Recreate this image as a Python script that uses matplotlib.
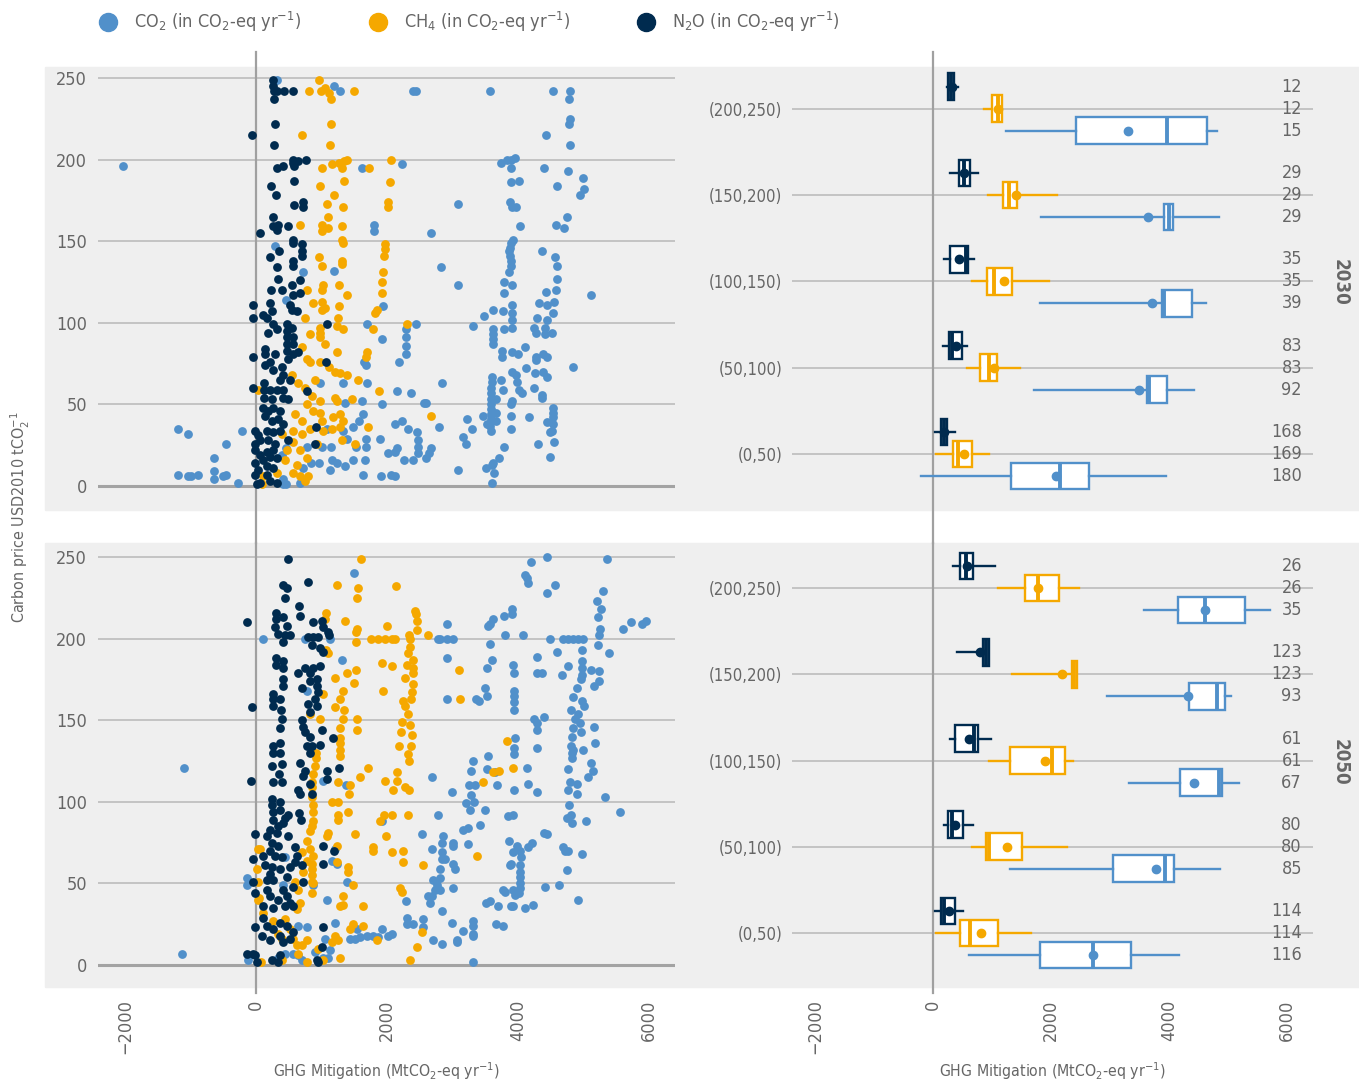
import matplotlib
matplotlib.use('Agg')
import matplotlib.pyplot as plt
from matplotlib.lines import Line2D
from matplotlib.patches import Rectangle
import numpy as np

# condensed face of DejaVu Sans comes closest to the narrow font of the original
plt.rcParams['font.family'] = ['DejaVu Sans']
plt.rcParams['font.stretch'] = 'condensed'
plt.rcParams['mathtext.default'] = 'regular'

# colours
c_co2 = '#5190ca'
c_ch4 = '#f5a800'
c_n2o = '#002b4f'
txt = '#666666'
grid = '#b8b8b8'

# ---- scatter data (GHG mitigation MtCO2-eq/yr, carbon price USD2010/tCO2) ----
co2_2030 = [(-2031,196),(-1196,35),(-1033,32),(-1196,7),(-1033,6),(-997,6),(-880,7),(-641,17),(-641,9),(-641,4),
    (-509,6),(-458,7),(-463,26),(-219,34),(-274,2),
    (316,249),(1197,245),(1283,242),(2403,242),(2444,242),(1624,195),(2235,197),(3090,173),(1807,160),(1807,156),
    (2668,155),(290,147),(1196,132),(723,131),(2825,134),(3090,123),(453,114),(1945,110),(1690,99),(2438,99),
    (2296,96),(2296,91),(2296,86),(2296,81),(1919,90),(1654,76),(1675,74),(2189,76),(2835,63),(977,63),(1334,63),
    (1690,63),(2148,58),(2362,57),(1359,51),(1614,52),(1919,50),(2566,51),(2596,51),(1639,44),(1578,40),(1079,35),
    (1324,34),(1487,36),(2123,38),(2235,40),(2327,35),(2454,33),(2799,36),(1385,29),(1675,29),(1894,29),(2479,28),
    (2479,24),(2479,20),(453,23),(786,24),(1013,24),(1141,24),(1532,24),(1675,24),(2148,23),(2021,20),(2123,21),
    (2672,23),(2647,20),(2601,17),(392,19),(843,14),(956,14),(1160,16),(1237,14),(1487,16),(1665,16),(2260,16),
    (2393,16),(723,11),(1130,10),(1364,12),(1634,7),(1914,6),(2067,7),(2118,6),(418,1),(453,1),(667,2),(407,4),
    (3090,10),
    (3578,242),(4529,242),(4799,242),(4784,237),(4794,225),(4784,222),(4789,209),(4428,215),(3740,198),(3827,200),
    (3888,200),(3959,201),(3888,195),(4402,195),(4769,193),(4998,189),(5008,182),(4947,178),(4596,184),(3893,186),
    (4015,187),(3883,174),(3903,171),(3970,171),(4753,165),(4585,160),(4702,158),(4026,159),(3929,151),(3898,149),
    (3878,146),(3868,144),(3878,141),(3893,138),(3893,135),(3868,131),(4372,144),(4570,140),(4596,135),(4590,127),
    (4585,120),(3791,125),(3903,123),(3791,118),(4433,119),(5110,117),(4321,112),(4438,111),(4550,113),(4529,106),
    (3913,111),(3913,106),(3913,102),(3913,97),(3623,108),(3481,104),(3776,107),(4295,103),(4438,102),(3308,98),
    (3623,96),(3623,93),(3623,90),(3623,87),(3786,96),(4250,97),(4275,94),(4412,93),(4514,94),(4412,97),(3751,83),
    (3751,79),(3913,82),(4000,81),(4102,85),(4270,79),(4270,77),(4377,81),(4438,79),(4845,73),(4122,72),(3598,67),
    (3598,64),(3583,60),(3583,57),(3583,53),(3583,50),(3583,47),(3583,44),(3583,41),(3573,37),(3583,34),(3735,65),
    (3766,59),(3664,53),(3664,45),(3664,40),(3913,70),(3969,68),(3980,64),(4020,59),(4061,57),(3908,52),(3898,50),
    (3893,43),(3893,35),(4244,60),(4372,56),(4372,54),(4265,69),(4387,70),(4438,67),(4529,48),(4529,45),(4529,42),
    (4529,38),(4438,39),(4514,34),(4489,33),(4550,27),(4489,18),(4163,42),(4311,26),(3461,43),(3522,38),(3216,41),
    (3298,35),(3155,30),(3206,26),(3786,24),(3715,17),(3623,14),(3598,13),(3511,11),(3639,8),(3608,2)]

ch4_2030 = [(962,249),(815,242),(993,242),(1054,244),(1120,241),(1141,237),(1497,242),(697,215),(1141,222),(1130,209),
    (1003,195),(1155,197),(1273,198),(1308,195),(1349,199),(1385,200),(1725,195),(2061,200),(977,184),(1196,178),
    (1344,187),(1079,173),(1334,171),(2046,186),(2011,174),(2011,171),(1104,165),(1099,158),(1308,159),(1003,160),
    (1003,156),(677,160),(1319,151),(1329,149),(1971,148),(1971,145),(1961,141),(963,140),(1003,135),(1308,138),
    (1308,136),(1945,131),(1930,125),(1920,118),(1818,106),(1853,108),(1028,123),(1003,120),(1268,123),(1395,117),
    (784,120),(876,112),(1003,113),(1263,110),(1003,108),(1054,109),(754,103),(1247,103),(1232,98),(1324,96),
    (825,93),(977,97),(977,94),(977,91),(1054,87),(1792,96),(2301,99),(1232,82),(1690,82),(1680,79),(697,85),
    (774,78),(825,76),(977,76),(1120,73),(1207,70),(1283,69),(1385,68),(1563,65),(545,68),(646,63),(748,60),
    (901,65),(850,55),(774,50),(977,52),(1207,54),(1232,52),(1461,53),(1884,58),(2667,43),(596,44),(697,40),
    (876,46),(977,45),(1003,40),(1181,42),(1283,44),(1334,40),(392,32),(570,34),(697,32),(825,35),(1028,34),
    (1155,35),(1283,36),(1716,36),(1512,26),(1308,28),(932,26),(570,27),(468,22),(672,22),(774,17),(621,13),
    (570,8),(748,3),(799,6),(112,6),(86,1),(315,8),(672,6),(443,16),(36,59)]

n2o_2030 = [(260,249),(260,245),(275,242),(326,242),(427,242),(570,242),(280,237),(-61,215),(285,222),(280,209),
    (316,195),(417,196),(570,200),(580,196),(646,199),(763,200),(570,198),(580,187),(224,184),(300,178),(580,172),
    (723,174),(723,171),(265,165),(341,160),(265,159),(494,159),(61,155),(316,157),(570,151),(570,149),(697,148),
    (697,144),(697,141),(356,144),(214,140),(570,138),(316,134),(570,135),(341,127),(672,126),(545,123),(234,120),
    (397,120),(570,117),(672,118),(-40,111),(-40,103),(214,112),(239,107),(112,105),(163,103),(519,111),(545,108),
    (621,107),(265,99),(188,94),(316,96),(468,99),(468,95),(468,91),(545,97),(570,91),(468,87),(570,87),(1089,99),
    (-40,79),(138,84),(138,81),(290,81),(468,83),(570,81),(646,82),(494,78),(214,76),(138,74),(392,73),(265,71),
    (417,68),(519,65),(366,65),(1063,76),(-40,60),(127,63),(127,59),(127,54),(214,59),(316,59),(417,59),(239,53),
    (417,54),(494,53),(774,58),(112,48),(188,46),(265,48),(366,46),(138,43),(239,40),(341,41),(417,38),(921,36),
    (-15,34),(36,31),(61,28),(163,34),(265,33),(366,34),(-15,26),(188,28),(290,26),(494,28),(901,26),(-15,22),
    (61,19),(163,21),(265,22),(-15,14),(112,16),(214,18),(316,17),(36,10),(163,12),(265,11),(-15,7),(61,2),
    (214,3),(316,2),(10,1),(163,7)]

co2_2050 = [(-1099,121),(-1135,7),(-142,53),(-142,49),(-117,3),
    (1502,240),(112,200),(749,200),(1130,200),(1308,187),(2785,200),(774,168),(2693,115),(1018,113),(1375,110),
    (2785,92),(1919,88),(2530,80),(2683,71),(1207,71),(1155,64),(1232,62),(443,66),(418,49),(1385,51),(876,49),
    (2698,52),(2759,49),(2733,46),(2683,42),(2632,42),(2657,38),(2291,39),(1089,40),(2301,29),(2301,25),(2403,25),
    (2555,28),(2555,23),(647,24),(774,23),(1207,26),(1537,22),(1436,16),(1512,16),(1588,17),(1690,18),(1792,18),
    (1868,17),(1919,22),(2021,18),(2072,19),(1054,16),(1130,9),(1104,4),(901,8),(1028,4),(570,7),(647,6),(697,3),
    (443,7),(341,4),(2708,15),
    (4448,250),(5364,249),(4193,247),(4112,239),(4132,237),(4148,234),(4565,233),(4438,228),(5303,229),(5201,223),
    (5268,218),(5227,213),(5252,206),(5242,202),(5227,196),(5395,191),(5598,206),(5720,210),(5888,209),(5955,211),
    (3903,218),(3903,215),(3791,214),(3623,212),(3547,208),(3573,209),(2921,209),(2809,200),(2921,200),(3013,200),
    (3573,197),(3807,202),(4082,202),(4489,200),(4692,200),(4769,200),(4845,200),(4921,200),(4998,200),(2921,188),
    (3608,187),(3522,182),(4285,189),(4590,192),(3929,184),(3939,179),(4285,179),(4361,179),(4667,178),(4769,183),
    (4972,193),(4972,186),(4972,182),(4972,178),(4962,175),(4896,170),(5110,181),(5237,180),(5242,174),(5161,171),
    (3496,170),(3522,165),(3354,163),(3410,162),(2921,163),(3939,168),(3939,165),(3939,161),(3939,156),(4845,164),
    (4972,162),(5008,159),(4804,156),(4911,154),(4244,151),(4285,148),(4285,144),(4402,152),(4285,133),(4870,151),
    (4947,148),(4957,143),(4845,145),(4820,140),(4804,134),(4820,130),(4820,127),(4835,132),(4998,132),(5161,146),
    (5176,136),(5110,124),(5150,119),(5074,115),(5328,103),(4769,120),(4794,112),(4769,107),(4896,111),(4896,105),
    (4774,98),(4743,90),(4809,92),(4820,87),(5038,88),(5558,94),(3949,139),(3939,133),(3939,129),(3547,128),
    (3522,120),(3649,118),(3318,125),(3287,119),(3684,110),(3257,110),(3343,110),(3282,104),(3333,100),(3206,99),
    (3272,95),(3501,95),(2987,106),(4143,121),(4148,111),(4285,106),(3939,107),(3852,91),(3929,92),(3420,86),
    (3155,83),(3242,84),(2850,79),(2834,75),(3013,75),(3013,73),(3242,74),(2834,69),(2834,65),(2885,65),(3013,62),
    (3038,59),(2809,59),(2809,53),(2809,46),(3003,47),(3863,76),(3980,73),(3929,69),(4031,70),(4046,66),(4031,61),
    (3898,62),(3878,61),(4031,57),(4031,54),(4031,50),(4031,47),(4020,44),(3929,46),(3954,43),(3893,36),(3776,46),
    (3801,45),(4148,72),(4209,75),(4402,81),(4438,80),(4692,72),(4769,70),(4718,70),(4977,68),(4743,58),(4417,48),
    (4631,49),(4921,40),(3511,38),(3573,39),(3700,36),(3929,36),(4107,35),(4234,37),(2834,33),(2997,26),(3155,21),
    (3074,15),(3074,14),(3318,27),(3318,24),(3318,19),(3318,18),(3664,25),(3776,24),(2834,13),(3318,2)]

ch4_2050 = [(36,71),(36,40),(3099,181),(3114,163),(3827,137),(3929,121),(3715,119),(3623,118),(3461,112),(3369,67),
    (1604,249),(1232,233),(1563,231),(1537,225),(2138,232),(1069,216),(1054,212),(1359,211),(1537,206),(1527,204),
    (1527,198),(1995,208),(2428,217),(2444,215),(2454,211),(2464,205),(2342,202),(2352,200),(2352,195),(2327,191),
    (2301,184),(2403,187),(2403,182),(2403,179),(2276,176),(2393,172),(2377,167),(2367,163),(2250,162),(2276,159),
    (2327,154),(1756,200),(1868,200),(1970,200),(2072,200),(2123,200),(2632,202),(1919,185),(2072,183),(1069,193),
    (1104,191),(1207,176),(1385,179),(1527,181),(1502,173),(1945,168),(1334,168),(1283,163),(1207,158),(1344,156),
    (1334,151),(1283,145),(1018,166),(977,151),(825,154),(1537,151),(1537,144),(2225,149),(2209,143),(2189,134),
    (2352,147),(2377,141),(2362,134),(2327,129),(2342,125),(1283,139),(1283,136),(1283,132),(1283,128),(916,130),
    (916,127),(901,122),(876,117),(850,112),(850,109),(1716,121),(1588,115),(1436,110),(1415,105),(1257,112),
    (2148,118),(2148,113),(2097,107),(1970,113),(2276,109),(2342,107),(850,103),(876,98),(876,94),(866,88),(850,85),
    (825,82),(1155,100),(1257,100),(1247,92),(1247,89),(1400,94),(1960,92),(2072,92),(2316,92),(1894,88),(1512,80),
    (1792,72),(1792,70),(1980,79),(2072,69),(2250,70),(2250,63),(2545,61),(1104,81),(1089,79),(1232,73),(1232,63),
    (1410,60),(1410,57),(1487,49),(1334,42),(1334,37),(1283,36),(1639,36),(774,76),(825,71),(876,67),(850,62),
    (850,59),(850,55),(850,51),(850,44),(876,50),(697,69),(774,64),(596,51),(723,57),(647,46),(672,38),(621,34),
    (2199,47),(2225,45),(2530,20),(2352,3),(2454,11),(1639,24),(1487,25),(1436,22),(1207,18),(1257,15),(1155,14),
    (774,15),(697,12),(774,2),(1028,3),(952,10),(1283,4),(1843,15),(61,71),(10,59),(36,51),(51,41),(112,32),
    (265,27),(341,19),(443,28),(519,22),(570,16),(621,12),(392,16),(71,2),(392,3),(647,7)]

n2o_2050 = [(484,249),(799,235),(418,233),(468,231),(443,225),(-142,210),(-66,158),(-81,113),(657,220),(672,214),
    (306,216),(306,212),(417,213),(468,208),(290,207),(341,203),(443,202),(519,202),(417,198),(865,210),(1003,211),
    (1028,207),(1104,204),(1120,202),(799,201),(876,201),(952,201),(850,196),(977,194),(1028,192),(977,183),
    (866,182),(748,182),(825,179),(647,179),(926,175),(306,188),(306,184),(417,186),(417,182),(417,175),(417,171),
    (265,166),(265,163),(265,159),(366,163),(377,156),(392,151),(697,170),(825,174),(926,171),(952,167),(901,163),
    (926,159),(799,160),(825,155),(697,150),(723,146),(748,143),(825,140),(774,134),(850,134),(825,130),(1003,144),
    (977,135),(1171,139),(366,145),(265,134),(366,136),(254,130),(366,130),(392,123),(239,122),(356,117),(254,112),
    (392,112),(672,124),(748,119),(723,116),(647,107),(672,105),(825,111),(850,105),(1089,119),(1089,114),
    (1267,121),(239,102),(239,98),(265,94),(366,100),(366,95),(443,90),(494,92),(254,89),(341,85),(417,87),(662,93),
    (682,89),(-15,80),(214,83),(163,79),(316,81),(494,79),(239,75),(341,73),(112,67),(214,70),(290,67),(392,66),
    (596,72),(621,67),(1028,73),(1191,70),(-40,65),(138,61),(239,60),(214,56),(163,52),(265,52),(366,59),(519,60),
    (468,54),(596,63),(697,61),(723,51),(1028,62),(570,48),(417,46),(-40,51),(-15,44),(163,46),(214,42),(341,40),
    (468,42),(519,38),(112,36),(265,35),(443,36),(570,36),(-15,23),(112,29),(163,24),(265,22),(366,26),(468,24),
    (570,20),(86,18),(214,15),(366,18),(417,14),(519,16),(1028,23),(1003,11),(-142,7),(-40,7),(10,2),(-15,6),
    (239,3),(341,2),(366,6),(926,3),(952,2)]

# ---- box plot statistics per price bin: [whislo, q1, median, q3, whishi, mean] ----
bins = ['(0,50)', '(50,100)', '(100,150)', '(150,200)', '(200,250)']

box_co2_2030 = [[-209,1324,2158,2640,3942,2086], [1705,3633,3669,3964,4424,3489], [1813,3885,3921,4388,4626,3705],
                [1835,3921,3993,4065,4856,3647], [1230,2430,3970,4640,4810,3310]]
box_ch4_2030 = [[58,338,432,655,957,518], [576,791,957,1086,1468,1029], [662,921,1036,1331,1964,1209],
                [935,1187,1295,1417,2101,1403], [856,1000,1101,1173,1173,1101]]
box_n2o_2030 = [[29,129,187,245,374,187], [165,266,324,489,568,396], [194,281,560,590,698,446],
                [288,446,532,619,770,532], [240,255,300,350,420,320]]

box_co2_2050 = [[612,1806,2712,3353,4173,2712], [1302,3050,3935,4086,4871,3784], [3317,4187,4842,4892,5180,4424],
                [2950,4331,4813,4950,5050,4317], [3583,4158,4604,5288,5719,4604]]
box_ch4_2050 = [[58,460,626,1094,1655,813], [655,892,957,1511,2266,1259], [950,1309,2014,2245,2381,1892],
                [1338,2353,2396,2439,2439,2187], [1101,1554,1780,2129,2468,1777]]
box_n2o_2050 = [[29,129,194,374,504,273], [194,252,324,511,683,381], [281,381,698,770,986,604],
                [403,842,892,942,950,791], [345,460,554,683,1043,576]]

n_co2_2030 = [180, 92, 39, 29, 15]
n_ch4_2030 = [169, 83, 35, 29, 12]
n_n2o_2030 = [168, 83, 35, 29, 12]
n_co2_2050 = [116, 85, 67, 93, 35]
n_ch4_2050 = [114, 80, 61, 123, 26]
n_n2o_2050 = [114, 80, 61, 123, 26]

W, H = 1359, 1082
fig = plt.figure(figsize=(W / 100, H / 100), dpi=100)


def fx(px):
    return px / W


def fy(py):
    return 1 - py / H


# grey bands behind each row
for top, bot in [(67, 510), (543, 987)]:
    fig.add_artist(Rectangle((fx(45), fy(bot)), fx(W - 45), (bot - top) / H,
                             transform=fig.transFigure, color='#efefef', zorder=0))


def scatter_panel(ax, co2, ch4, n2o, ylim, ext):
    for pts, c in [(co2, c_co2), (ch4, c_ch4), (n2o, c_n2o)]:
        x, y = zip(*pts)
        ax.scatter(x, y, s=40, color=c, linewidths=0, zorder=3)
    ax.set_xlim(-2412, 6397)
    ax.set_ylim(*ylim)
    ax.set_yticks([0, 50, 100, 150, 200, 250])
    for v in [50, 100, 150, 200, 250]:
        ax.axhline(v, color=grid, lw=1.1, zorder=1)
    ax.axhline(0, color='#a3a3a3', lw=2.2, zorder=1)
    ax.plot([0, 0], ext, transform=ax.get_xaxis_transform(), color='#a0a0a0', lw=1.6, clip_on=False, zorder=2)
    ax.tick_params(axis='y', length=0, pad=8, labelsize=13, labelcolor=txt)


def box_panel(ax, boxes, counts, ylim, ext):
    ax.set_xlim(-2390, 6441)
    ax.set_ylim(*ylim)
    pos = np.arange(len(bins))
    for i in pos:
        ax.axhline(i, color=grid, lw=1.1, zorder=1)
    ax.plot([0, 0], ext, transform=ax.get_xaxis_transform(), color='#a0a0a0', lw=1.6, clip_on=False, zorder=1.5)
    for rows, n, off, c in zip(boxes, counts, [-0.255, 0, 0.255], [c_co2, c_ch4, c_n2o]):
        stats = [dict(whislo=r[0], q1=r[1], med=r[2], q3=r[3], whishi=r[4], mean=r[5], fliers=[]) for r in rows]
        ax.bxp(stats, positions=pos + off, widths=0.31, orientation='horizontal', showmeans=True,
               showcaps=False, patch_artist=True, manage_ticks=False,
               boxprops=dict(facecolor='white', edgecolor=c, linewidth=1.7),
               medianprops=dict(color=c, linewidth=2.8),
               whiskerprops=dict(color=c, linewidth=1.7),
               meanprops=dict(marker='o', markerfacecolor=c, markeredgecolor=c, markersize=6))
        for p, v in zip(pos + off, n):
            ax.text(6254, p, str(v), ha='right', va='center', fontsize=13, color=txt, zorder=4)
    ax.set_yticks(pos)
    ax.set_yticklabels(bins)
    ax.tick_params(axis='y', length=0, pad=7, labelsize=12, labelcolor=txt)


# axes positions (figure fractions)
ax1 = fig.add_axes([fx(98), fy(510), fx(675 - 98), (510 - 67) / H])
ax2 = fig.add_axes([fx(792), fy(510), fx(1313 - 792), (510 - 67) / H])
ax3 = fig.add_axes([fx(98), fy(987), fx(675 - 98), (987 - 543) / H])
ax4 = fig.add_axes([fx(792), fy(987), fx(1313 - 792), (987 - 543) / H])

scatter_panel(ax1, co2_2030, ch4_2030, n2o_2030, (-14.7, 256.7), (-0.075, 1.034))
scatter_panel(ax3, co2_2050, ch4_2050, n2o_2050, (-13.5, 258.6), (-0.0135, 1.0))
box_panel(ax2, [box_co2_2030, box_ch4_2030, box_n2o_2030], [n_co2_2030, n_ch4_2030, n_n2o_2030],
          (-0.649, 4.484), (-0.075, 1.034))
box_panel(ax4, [box_co2_2050, box_ch4_2050, box_n2o_2050], [n_co2_2050, n_ch4_2050, n_n2o_2050],
          (-0.626, 4.522), (-0.0135, 1.0))

for ax in [ax1, ax2, ax3, ax4]:
    ax.set_facecolor('none')
    for s in ax.spines.values():
        s.set_visible(False)
    ax.set_xticks([-2000, 0, 2000, 4000, 6000])

for ax in [ax1, ax2]:
    ax.tick_params(axis='x', length=0, labelbottom=False)
for ax in [ax3, ax4]:
    ax.tick_params(axis='x', length=0, pad=9, labelsize=13, labelcolor=txt, labelrotation=90)

# axis titles
xlab = 'GHG Mitigation (MtCO$_2$-eq yr$^{-1}$)'
fig.text(fx(386), fy(1071), xlab, ha='center', va='center', fontsize=11.3, color=txt)
fig.text(fx(1052), fy(1071), xlab, ha='center', va='center', fontsize=11.3, color=txt)
fig.text(fx(20), fy(517), 'Carbon price USD2010 tCO$_2^{-1}$', rotation=90, ha='center', va='center',
         fontsize=11.5, color=txt)
fig.text(fx(1340), fy(282), '2030', rotation=270, ha='center', va='center', fontsize=13.5,
         fontweight='bold', color=txt)
fig.text(fx(1340), fy(762), '2050', rotation=270, ha='center', va='center', fontsize=13.5,
         fontweight='bold', color=txt)

# legend
legend_items = [(c_co2, 'CO$_2$ (in CO$_2$-eq yr$^{-1}$)', 108),
                (c_ch4, 'CH$_4$ (in CO$_2$-eq yr$^{-1}$)', 378),
                (c_n2o, 'N$_2$O (in CO$_2$-eq yr$^{-1}$)', 646)]
for c, lab, px in legend_items:
    fig.add_artist(Line2D([fx(px)], [fy(22)], marker='o', markersize=13, color=c, linestyle='none',
                          transform=fig.transFigure))
    fig.text(fx(px + 26), fy(22), lab, ha='left', va='center', fontsize=13, color=txt)

fig.savefig('out.png', dpi=100)
